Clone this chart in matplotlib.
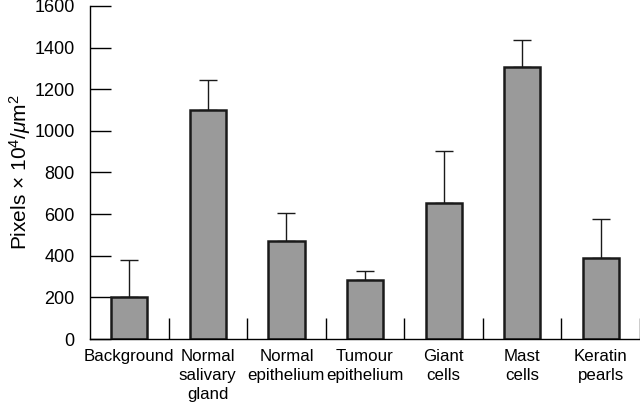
import matplotlib
matplotlib.use("Agg")
import matplotlib.pyplot as plt
import numpy as np

# ── Data ──────────────────────────────────────────────────────────────
categories = ["Background", "Normal\nsalivary\ngland", "Normal\nepithelium",
              "Tumour\nepithelium", "Giant\ncells", "Mast\ncells", "Keratin\npearls"]
means = [200, 1100, 470, 283, 655, 1305, 388]
errors = [180, 145, 135, 42, 250, 130, 190]
yticks = [0, 200, 400, 600, 800, 1000, 1200, 1400, 1600]

plt.rcParams["font.family"] = ["Liberation Sans", "DejaVu Sans"]
plt.rcParams["mathtext.fontset"] = "custom"
plt.rcParams["mathtext.rm"] = "Liberation Sans"
plt.rcParams["mathtext.it"] = "Liberation Sans:italic"

fig = plt.figure(figsize=(6.4, 4.07), dpi=100)
ax = fig.add_axes([90 / 640, 1 - 339 / 407, 550 / 640, 333 / 407])

x = np.arange(len(categories))
ax.bar(x, means, width=0.46, color="#9a9a9a", edgecolor="#1a1a1a", linewidth=1.8,
       zorder=2)
ax.errorbar(x, means, yerr=[np.zeros(len(errors)), errors], fmt="none",
            ecolor="#1a1a1a", elinewidth=1.0, capsize=6.5, capthick=1.0, zorder=1)

ax.set_xlim(-0.5, len(categories) - 0.5)
ax.set_ylim(0, 1600)
ax.set_yticks(yticks)
ax.tick_params(axis="y", direction="in", length=15, width=1, labelsize=13, pad=11)

# category labels as minor ticks, boundary ticks as major
ax.set_xticks(x + 0.5)
ax.set_xticklabels([])
ax.tick_params(axis="x", which="major", direction="in", length=15, width=1)
ax.set_xticks(x, minor=True)
ax.set_xticklabels(categories, minor=True, fontsize=12.2, linespacing=1.36)
ax.tick_params(axis="x", which="minor", length=0, pad=7)

for s in ["top", "right"]:
    ax.spines[s].set_visible(False)
for s in ["left", "bottom"]:
    ax.spines[s].set_linewidth(1.0)

ax.set_ylabel(r"Pixels × 10$^{4}$/$\mu$m$^{2}$", fontsize=15, labelpad=1)

fig.savefig("out.png", dpi=100)
